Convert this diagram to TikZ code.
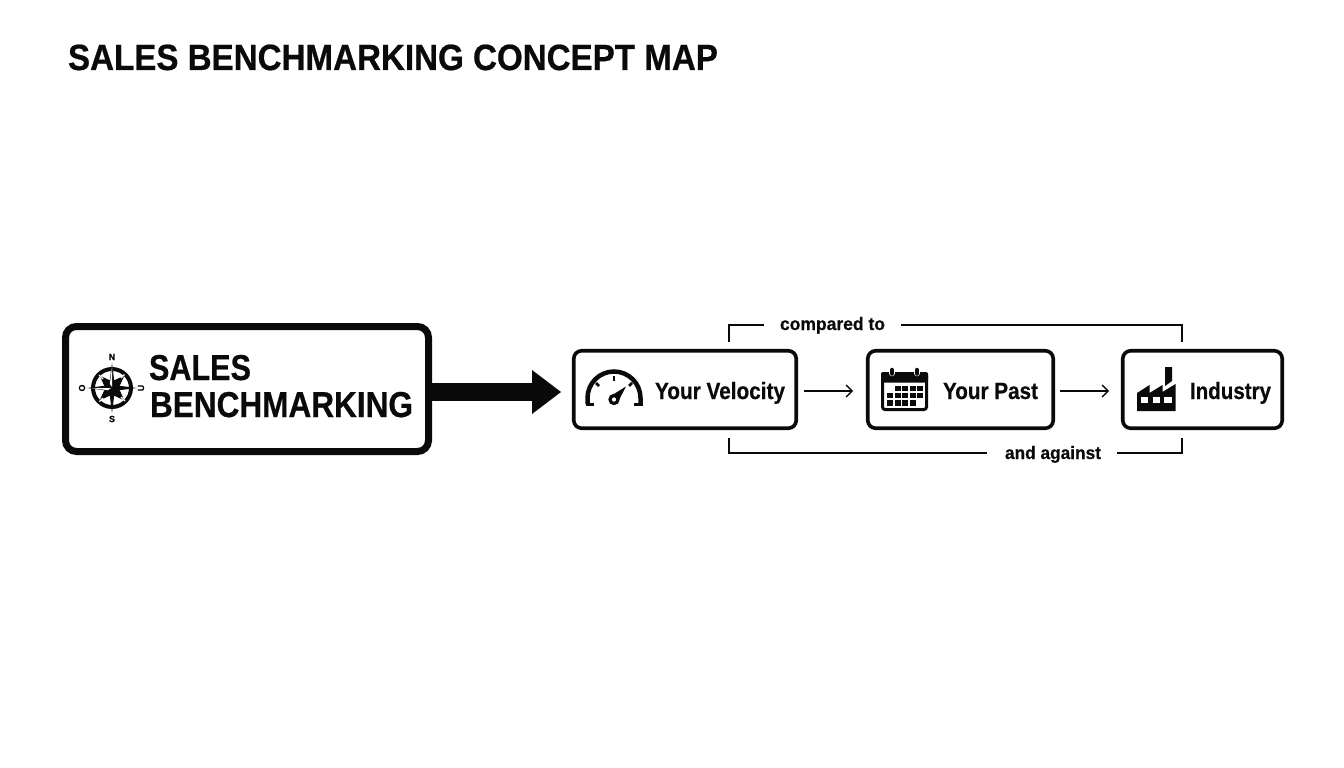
\documentclass[tikz,border=0pt]{standalone}
\usepackage{fontspec}
\usepackage{graphicx}
\setmainfont{Liberation Sans}[BoldFeatures={FakeBold=0.6}]
\usetikzlibrary{arrows.meta}
\newcommand{\fittext}[3]{\resizebox{#1pt}{\height}{\fontsize{#2pt}{#2pt}\selectfont\bfseries #3}}
\tikzset{
  x=1pt,y=-1pt,
  txt/.style={inner sep=0pt,outer sep=0pt,anchor=base west,text=ink},
  mainbox/.style={draw=ink,line width=7pt,rounded corners=11pt,fill=white,inner sep=0pt,outer sep=0pt,minimum width=363pt,minimum height=125pt},
  subbox/.style={draw=ink,line width=3.6pt,rounded corners=8pt,fill=white,inner sep=0pt,outer sep=0pt,minimum height=77.5pt},
  flow/.style={draw=ink,line width=1.3pt,-{Straight Barb[length=6pt,width=12pt,line width=1.3pt]}},
  bracket/.style={draw=ink,line width=1.7pt},
  cmpl/.style={font=\fontsize{9}{9}\selectfont\bfseries,text=ink,inner sep=0pt},
}
\definecolor{ink}{HTML}{0A0A0A}
\begin{document}
\begin{tikzpicture}
\useasboundingbox (0,0) rectangle (1344,768);
\fill[white] (0,0) rectangle (1344,768);

\node[txt] (title) at (68,70) {\fittext{650}{36.5}{SALES BENCHMARKING CONCEPT MAP}};

% boxes
\node[mainbox] (sales) at (247,389) {};
\node[subbox,minimum width=222.5pt] (velocity) at (685,389.5) {};
\node[subbox,minimum width=185.5pt] (past) at (960.5,389.5) {};
\node[subbox,minimum width=159.5pt] (industry) at (1202.5,389.5) {};

% thick arrow
\coordinate (headbase) at (532,392);
\coordinate (headtip) at (561,392);
\draw[ink,line width=18pt] (sales.east |- headbase) -- (headbase);
\fill[ink] (532,370) -- (headtip) -- (532,414) -- cycle;

% labels
\node[txt] (l1) at (149,380) {\fittext{102}{36}{SALES}};
\node[txt] (l2) at (150,417) {\fittext{263}{36}{BENCHMARKING}};
\node[txt] (l3) at (655,399) {\fittext{130}{23.5}{Your Velocity}};
\node[txt] (l4) at (943,399) {\fittext{95}{23.5}{Your Past}};
\node[txt] (l5) at (1190,399) {\fittext{81}{23.5}{Industry}};

% flows
\coordinate (f0) at (804,391); \coordinate (f1) at (853,391);
\coordinate (f2) at (1060,391); \coordinate (f3) at (1109,391);
\draw[flow] (f0) -- (f1);
\draw[flow] (f2) -- (f3);

% brackets
\node[txt] (cmp) at (780,330) {\fittext{105}{18}{compared to}};
\node[txt] (agn) at (1005,459) {\fittext{96}{18}{and against}};
\coordinate (ta) at (729,342); \coordinate (tb) at (729,325); \coordinate (tc) at (764,325);
\coordinate (td) at (901,325); \coordinate (te) at (1182,325); \coordinate (tf) at (1182,342);
\coordinate (ba) at (729,438); \coordinate (bb) at (729,453); \coordinate (bc) at (987,453);
\coordinate (bd) at (1117,453); \coordinate (be) at (1182,453); \coordinate (bf) at (1182,438);
\draw[bracket] (ta) -- (tb) -- (tc);
\draw[bracket] (td) -- (te) -- (tf);
\draw[bracket] (ba) -- (bb) -- (bc);
\draw[bracket] (bd) -- (be) -- (bf);

% compass
\begin{scope}[shift={(112,388)}]
  \draw[ink,line width=4pt] (0,0) circle (19);
  \foreach \a in {45,135,225,315}{
    \begin{scope}[rotate=\a]
      \fill[ink] (0,-6.5) -- (17.5,0) -- (0,6.5) -- cycle;
    \end{scope}
  }
  \draw[white,line width=1.2pt] (-13,-13) -- (-9,-9);
  \draw[white,line width=1.2pt] (13,13) -- (9,9);
  \draw[white,line width=1.2pt] (-12.5,13.5) -- (-9,10);
  \draw[white,line width=1.2pt] (12.5,-13.5) -- (9,-10);
  \foreach \a in {0,90,180,270}{
    \begin{scope}[rotate=\a]
      \fill[ink] (-2.8,-2.8) -- (0,-25) -- (2.8,-2.8) -- (0,0) -- cycle;
    \end{scope}
  }
  \fill[white] (0,-1) -- (0,-21) -- (-2.2,-4) -- cycle;
  \fill[white] (-1,0) -- (-21,0) -- (-4,2.2) -- cycle;
  \node[cmpl] (cn) at (0,-31) {N};
  \node[cmpl] (cs) at (0,31) {S};
  \node[cmpl,rotate=90] (cw) at (-30,0) {O};
  \node[cmpl,rotate=90] (ce) at (29,0) {U};
\end{scope}

% gauge
\begin{scope}[shift={(614,398)}]
  \draw[ink,line width=4.5pt] (-26.5,6) -- (-26.5,0) arc[start angle=180,end angle=360,radius=26.5] -- (26.5,6);
  \draw[ink,line width=3pt] (-28.5,6) -- (-20,6);
  \draw[ink,line width=3pt] (28.5,6) -- (20,6);
  \draw[ink,line width=2.8pt] (0,-22) -- (0,-17.5);
  \draw[ink,line width=2.8pt] (-18,-15) -- (-15,-12);
  \draw[ink,line width=2.8pt] (18,-15) -- (15,-12);
  \fill[ink] (-2.5,-2.5) -- (12,-11.5) -- (4.5,3) -- cycle;
  \draw[ink,line width=3.2pt,fill=white] (0,1.5) circle (4);
\end{scope}

% calendar
\draw[ink,line width=3pt,rounded corners=2.5pt,fill=white] (882.5,373.5) rectangle (926.5,409.5);
\fill[ink,rounded corners=2pt] (881,372) rectangle (928,382.5);
\foreach \x in {892,917}{
  \draw[white,line width=6.5pt,line cap=round] (\x,369.5) -- (\x,373);
  \draw[ink,line width=4.5pt,line cap=round] (\x,370) -- (\x,373.5);
}
\foreach \c in {1,2,3,4}{ \fill[ink] ({887+7.5*\c},385.5) rectangle +(6,5); }
\foreach \c in {0,1,2,3,4}{ \fill[ink] ({887+7.5*\c},392.5) rectangle +(6,5); }
\foreach \c in {0,1,2,3}{ \fill[ink] ({887+7.5*\c},400) rectangle +(6,5.5); }

% factory
\fill[ink] (1137,393) -- (1149.5,385) -- (1149.5,393) -- (1162.5,385) -- (1162.5,392) -- (1175.5,384) -- (1175.5,411) -- (1137,411) -- cycle;
\fill[ink] (1165,367) -- (1172,367) -- (1172,381) -- (1165,386) -- cycle;
\fill[white] (1141,397) rectangle (1147.5,403);
\fill[white] (1153,397) rectangle (1160,403);
\fill[white] (1164,397) rectangle (1172,403);
\end{tikzpicture}
\end{document}
